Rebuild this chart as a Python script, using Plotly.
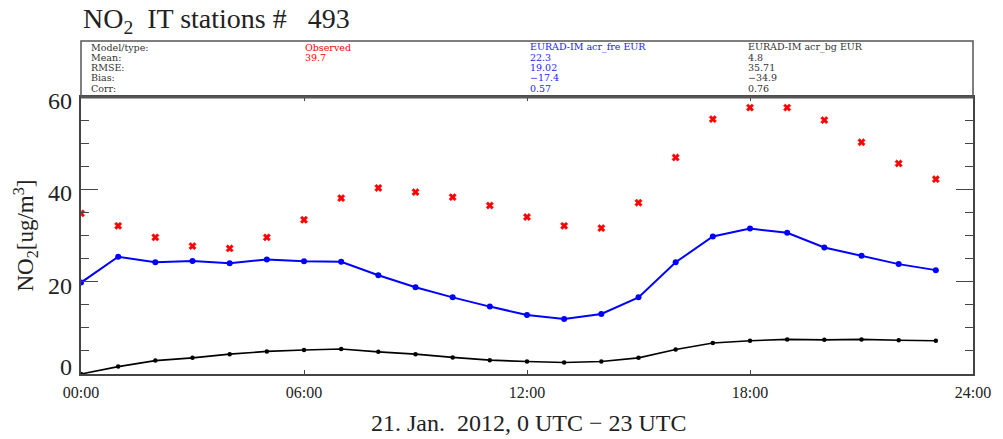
import plotly.graph_objects as go

# Hourly NO2 concentrations, 21 Jan 2012 (ug/m3)
hours = list(range(24))
observed = [34.8, 32.1, 29.6, 27.7, 27.2, 29.6, 33.4, 38.1, 40.3, 39.4, 38.3, 36.5,
            34.0, 32.1, 31.6, 37.1, 46.9, 55.2, 57.7, 57.7, 55.0, 50.2, 45.6, 42.2]
acr_fre = [19.8, 25.4, 24.2, 24.5, 24.0, 24.8, 24.4, 24.3, 21.4, 18.8, 16.6, 14.6,
           12.8, 11.9, 13.0, 16.6, 24.2, 29.8, 31.5, 30.6, 27.4, 25.6, 23.8, 22.5]
acr_bg = [0.0, 1.6, 2.9, 3.5, 4.3, 4.9, 5.2, 5.4, 4.8, 4.3, 3.6, 3.0,
          2.7, 2.5, 2.7, 3.5, 5.3, 6.7, 7.2, 7.5, 7.4, 7.5, 7.3, 7.2]

# Statistics table shown above the plot
stat_labels = ["Model/type:", "Mean:", "RMSE:", "Bias:", "Corr:"]
obs_stats = ["Observed", "39.7", "", "", ""]
fre_stats = ["EURAD-IM acr_fre EUR", "22.3", "19.02", "\u221217.4", "0.57"]
bg_stats = ["EURAD-IM acr_bg EUR", "4.8", "35.71", "\u221234.9", "0.76"]

x_tickvals = [0, 6, 12, 18, 24]
x_ticktext = ["00:00", "06:00", "12:00", "18:00", "24:00"]
y_tickvals = [0, 20, 40, 60]
y_ticktext = ["0", "20", "40", "60"]

W, H = 1003, 439
ML, MR, MT, MB = 81, 22, 97, 65
PW, PH = W - ML - MR, H - MT - MB

def px(xp):
    return (xp - ML) / PW

def py(yp):
    return (H - MB - yp) / PH

SERIF = "Liberation Serif"
AX = "#444444"

fig = go.Figure()
fig.add_trace(go.Scatter(x=hours, y=acr_bg, mode="lines+markers",
                         line=dict(color="black", width=1.6),
                         marker=dict(color="black", size=4.5), showlegend=False))
fig.add_trace(go.Scatter(x=hours, y=acr_fre, mode="lines+markers",
                         line=dict(color="#0000ff", width=2),
                         marker=dict(color="#0000ff", size=6), showlegend=False))
fig.add_trace(go.Scatter(x=hours, y=observed, mode="markers",
                         marker=dict(color="#ff0000", symbol="x", size=6.5,
                                     line=dict(width=0.5, color="#ff0000")),
                         showlegend=False))

annotations = []
# title
annotations.append(dict(text="NO<sub>2</sub>\u00a0\u00a0IT stations #\u00a0\u00a0\u00a0493",
                        x=px(81), y=py(20), xref="paper", yref="paper",
                        xanchor="left", yanchor="middle", showarrow=False,
                        font=dict(family=SERIF, size=28, color="#222")))
# axis titles
annotations.append(dict(text="NO<sub>2</sub>[ug/m<sup>3</sup>]",
                        x=px(24), y=py(236), xref="paper", yref="paper",
                        xanchor="center", yanchor="middle", textangle=-90,
                        showarrow=False, font=dict(family=SERIF, size=23, color="#222")))
annotations.append(dict(text="21. Jan.\u00a0\u00a02012, 0 UTC \u2212 23 UTC",
                        x=px(533), y=py(423), xref="paper", yref="paper",
                        xanchor="center", yanchor="middle", showarrow=False,
                        font=dict(family=SERIF, size=24, color="#222")))

# y tick labels (the lowest one is lifted clear of the time labels)
for v, t in zip(y_tickvals, y_ticktext):
    annotations.append(dict(text=t, x=0, y=v, xref="paper", yref="y",
                            xanchor="right", yanchor="middle", xshift=-7,
                            yshift=7 if v == y_tickvals[0] else -4,
                            showarrow=False,
                            font=dict(family=SERIF, size=24, color="#222")))

# statistics table
row_y = [47.5, 57.5, 67.5, 78, 88.5]
columns = [(89, stat_labels, "#333333"), (305, obs_stats, "#ff0000"),
           (532, fre_stats, "#2222ff"), (752, bg_stats, "#333333")]
for xcol, texts, col in columns:
    for ry, t in zip(row_y, texts):
        if not t:
            continue
        annotations.append(dict(text=t, x=px(xcol), y=py(ry), xref="paper", yref="paper",
                                xanchor="left", yanchor="middle", showarrow=False,
                                font=dict(family="DejaVu Serif", size=9.5, color=col)))

shapes = [
    dict(type="rect", xref="paper", yref="paper", x0=0, x1=1, y0=1, y1=py(41),
         line=dict(color="#555555", width=1.5)),
    dict(type="line", xref="paper", yref="paper", x0=0, x1=1, y0=1, y1=1,
         line=dict(color="#555555", width=3)),
]

fig.update_layout(
    width=W, height=H, autosize=False,
    margin=dict(l=ML, r=MR, t=MT, b=MB),
    paper_bgcolor="white", plot_bgcolor="white",
    annotations=annotations, shapes=shapes,
    font=dict(family=SERIF, color="#222"),
)
fig.update_xaxes(range=[0, 24], tickvals=x_tickvals, ticktext=x_ticktext,
                 ticks="inside", ticklen=4, tickcolor=AX, tickwidth=1,
                 showline=True, linecolor=AX, linewidth=1.5, mirror="ticks",
                 showgrid=False, zeroline=False, ticklabelstandoff=3,
                 tickfont=dict(family=SERIF, size=16, color="#222"))
fig.update_yaxes(range=[0, 60], tickvals=y_tickvals, showticklabels=False,
                 ticks="inside", ticklen=17, tickcolor=AX, tickwidth=1.2,
                 minor=dict(dtick=5, ticks="inside", ticklen=8, tickcolor=AX, tickwidth=1.2,
                            showgrid=False),
                 showline=True, linecolor=AX, linewidth=2, mirror="ticks",
                 showgrid=False, zeroline=False)

fig.write_html("out.html")
